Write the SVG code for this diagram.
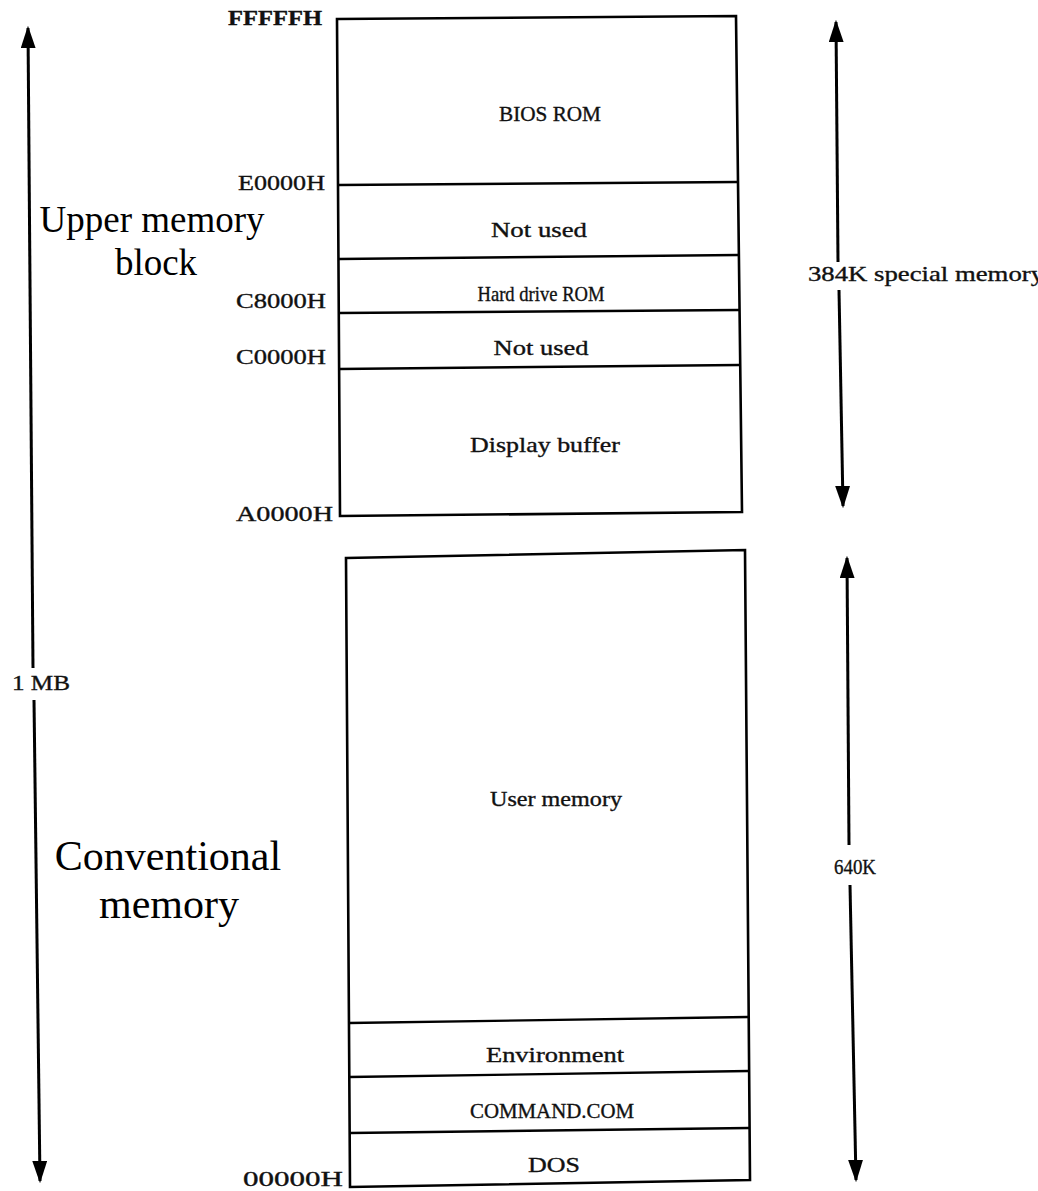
<svg xmlns="http://www.w3.org/2000/svg" width="1038" height="1191" viewBox="0 0 1038 1191">
<defs>
<marker id="ah" viewBox="0 0 10 10" refX="9" refY="5" markerWidth="7.5" markerHeight="5" markerUnits="strokeWidth" orient="auto-start-reverse" preserveAspectRatio="none">
<path d="M0,0 L10,5 L0,10 Z" fill="#000"/>
</marker>
<style>
.box{fill:#fff;stroke:#000;stroke-width:2.6;stroke-linejoin:miter}
.div{fill:none;stroke:#000;stroke-width:2.4}
.conn{fill:none;stroke:#000;stroke-width:3}
.s{font-family:"Liberation Serif","Times New Roman",serif;font-size:21px;fill:#111;stroke:#111;stroke-width:0.35}
.c{text-anchor:middle}
.big{font-family:"Liberation Serif","Times New Roman",serif;fill:#000;text-anchor:middle}
</style>
</defs>
<rect width="1038" height="1191" fill="#fff"/>

<g id="upper-block">
<path class="box" d="M337,19 L736,16 L742,512 L340,516 Z"/>
<path class="div" d="M338,185 L737,182"/>
<path class="div" d="M339,259 L738,255"/>
<path class="div" d="M339,313 L739,310"/>
<path class="div" d="M339,369 L739,365"/>
</g>

<g id="bios-rom"><text class="s c" x="550" y="121" textLength="102" lengthAdjust="spacingAndGlyphs">BIOS ROM</text></g>
<g id="not-used-1"><text class="s c" x="539" y="237" textLength="96" lengthAdjust="spacingAndGlyphs">Not used</text></g>
<g id="hard-drive-rom"><text class="s c" x="541" y="301" textLength="127" lengthAdjust="spacingAndGlyphs">Hard drive ROM</text></g>
<g id="not-used-2"><text class="s c" x="541" y="355" textLength="95" lengthAdjust="spacingAndGlyphs">Not used</text></g>
<g id="display-buffer"><text class="s c" x="545" y="452" textLength="150" lengthAdjust="spacingAndGlyphs">Display buffer</text></g>

<g id="lower-block">
<path class="box" d="M346,558 L745,550 L750,1180 L350,1187 Z"/>
<path class="div" d="M349,1023 L748,1017"/>
<path class="div" d="M349,1077 L749,1071"/>
<path class="div" d="M350,1133 L749,1128"/>
</g>

<g id="user-memory"><text class="s c" x="556" y="806" textLength="132" lengthAdjust="spacingAndGlyphs">User memory</text></g>
<g id="environment"><text class="s c" x="555" y="1062" textLength="138" lengthAdjust="spacingAndGlyphs">Environment</text></g>
<g id="command-com"><text class="s c" x="552" y="1118" textLength="164" lengthAdjust="spacingAndGlyphs">COMMAND.COM</text></g>
<g id="dos"><text class="s c" x="554" y="1172" textLength="52" lengthAdjust="spacingAndGlyphs">DOS</text></g>

<g id="addresses">
<text class="s" x="228" y="25" textLength="94" lengthAdjust="spacingAndGlyphs" font-weight="bold">FFFFFH</text>
<text class="s" x="238" y="190" textLength="87" lengthAdjust="spacingAndGlyphs">E0000H</text>
<text class="s" x="236" y="308" textLength="90" lengthAdjust="spacingAndGlyphs">C8000H</text>
<text class="s" x="236" y="364" textLength="90" lengthAdjust="spacingAndGlyphs">C0000H</text>
<text class="s" x="236" y="521" textLength="97" lengthAdjust="spacingAndGlyphs">A0000H</text>
<text class="s" x="243" y="1186" textLength="100" lengthAdjust="spacingAndGlyphs">00000H</text>
</g>

<g id="connectors">
<path class="conn" d="M28,28 L33,668" marker-start="url(#ah)"/>
<path class="conn" d="M34,700 L40,1181" marker-end="url(#ah)"/>
<path class="conn" d="M836,22 L838,262" marker-start="url(#ah)"/>
<path class="conn" d="M839,290 L843,506" marker-end="url(#ah)"/>
<path class="conn" d="M847,558 L849,845" marker-start="url(#ah)"/>
<path class="conn" d="M850,885 L856,1180" marker-end="url(#ah)"/>
</g>

<g id="dimension-labels">
<text class="s" x="12" y="690" textLength="58" lengthAdjust="spacingAndGlyphs">1 MB</text>
<text class="s" x="808" y="281" textLength="236" lengthAdjust="spacingAndGlyphs">384K special memory</text>
<text class="s" x="834" y="874" textLength="42" lengthAdjust="spacingAndGlyphs">640K</text>
</g>

<g id="region-labels">
<text class="big" x="152" y="232" font-size="37">Upper memory</text>
<text class="big" x="156" y="275" font-size="37">block</text>
<text class="big" x="168" y="870" font-size="42">Conventional</text>
<text class="big" x="169" y="918" font-size="42">memory</text>
</g>
</svg>
